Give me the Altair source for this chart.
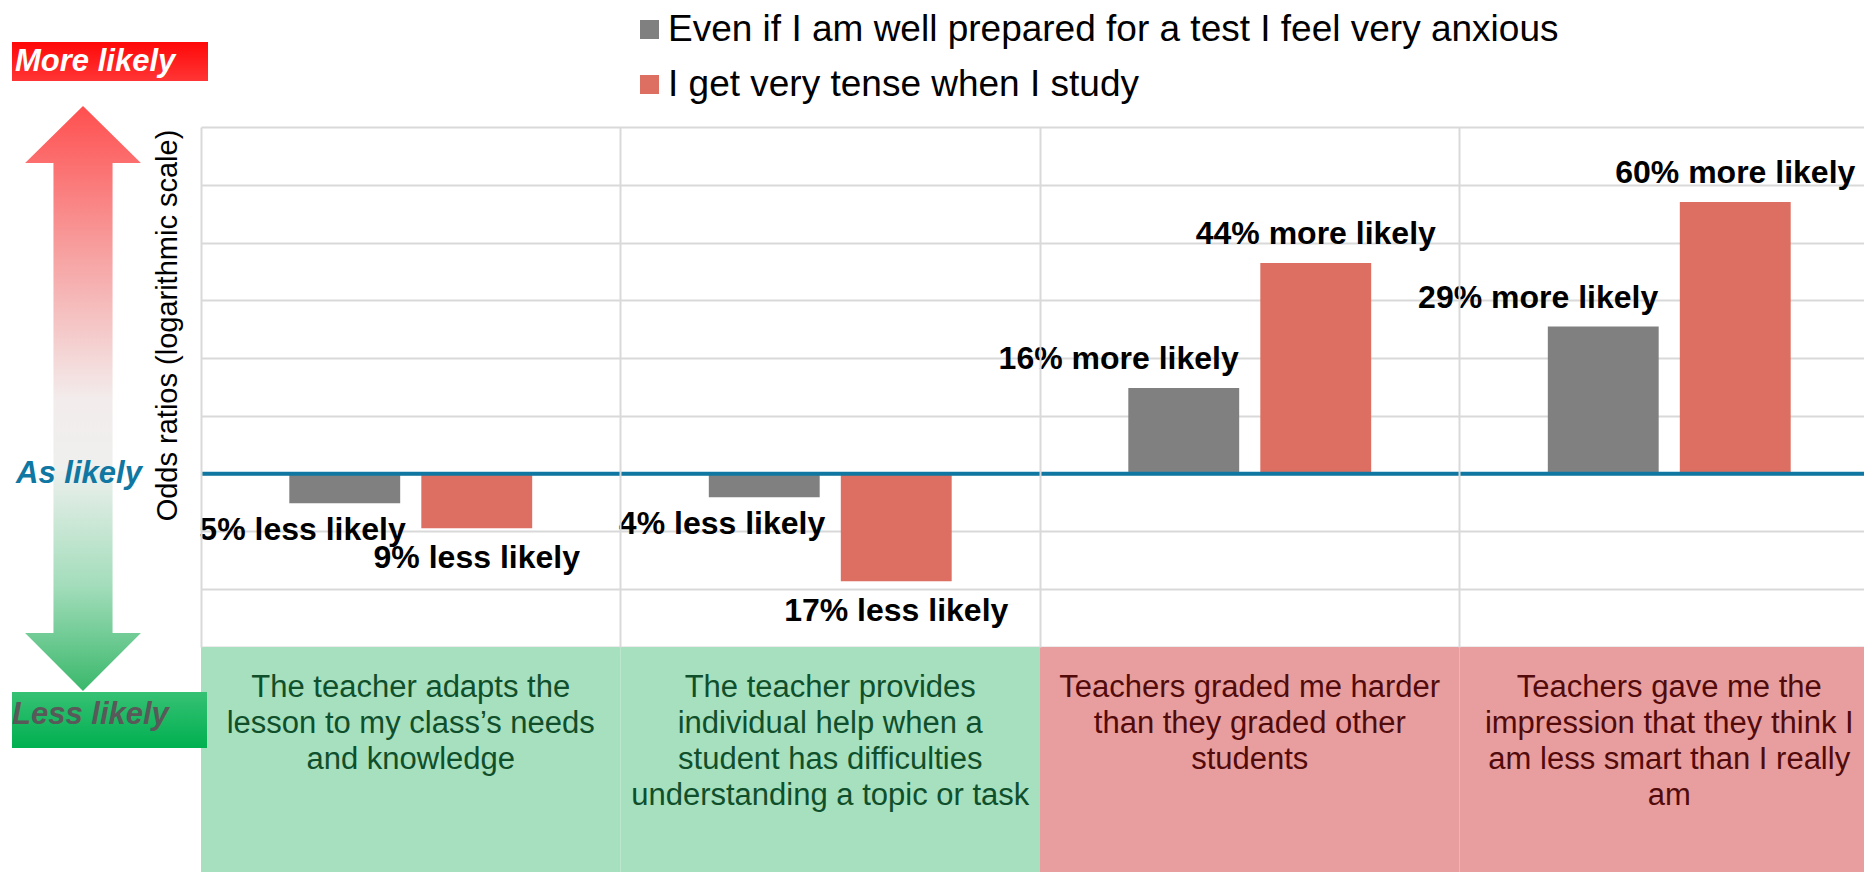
import math
import altair as alt
import pandas as pd

# ---------------- data ----------------
category_keys = ["adapts", "individual_help", "graded_harder", "less_smart"]
category_lines = [
    ["The teacher adapts the", "lesson to my class’s needs", "and knowledge"],
    ["The teacher provides", "individual help when a", "student has difficulties", "understanding a topic or task"],
    ["Teachers graded me harder", "than they graded other", "students"],
    ["Teachers gave me the", "impression that they think I", "am less smart than I really", "am"],
]
category_group = ["support", "support", "unfair", "unfair"]

series = [
    "Even if I am well prepared for a test I feel very anxious",
    "I get very tense when I study",
]
anxious_or = [0.95, 0.96, 1.16, 1.29]
tense_or = [0.91, 0.83, 1.44, 1.60]

series_colors = ["#808080", "#dd6e62"]

FONT = "Liberation Sans"

def label_for(v):
    pct = abs(round((v - 1) * 100))
    return f"{pct}% {'more' if v > 1 else 'less'} likely"

rows = []
for sid, vals in enumerate([anxious_or, tense_or]):
    for k, v in zip(category_keys, vals):
        rows.append({"cat": k, "series": series[sid], "sid": sid, "value": v,
                     "label": label_for(v), "pos": 1 if v > 1 else 0})
df = pd.DataFrame(rows)

catdf = pd.DataFrame({"cat": category_keys, "lines": category_lines, "group": category_group})
ann = pd.DataFrame({"k": [0]})

grid_vals = [math.exp(k / 10) for k in range(-3, 7)]

# ---------------- encodings ----------------
x_enc = alt.X(
    "cat:N", sort=category_keys,
    scale=alt.Scale(range=[0, 1678], paddingInner=0, paddingOuter=0),
    axis=alt.Axis(labels=False, ticks=False, domain=False, title=None, grid=True,
                  bandPosition=0, gridColor="#d9d9d9", gridWidth=2),
)
xo_enc = alt.XOffset("series:N", sort=series,
                     scale=alt.Scale(paddingInner=0.16, paddingOuter=0.669))
y_enc = alt.Y(
    "value:Q",
    scale=alt.Scale(type="log", domain=[math.exp(-0.3), math.exp(0.6)], nice=False, zero=False),
    axis=alt.Axis(values=grid_vals, labels=False, ticks=False, domain=False, grid=True,
                  gridColor="#d9d9d9", gridWidth=2,
                  title="Odds ratios (logarithmic scale)", titleX=-34, titleY=198,
                  titleAngle=270, titleFontSize=29, titleFontWeight="normal",
                  titleFont=FONT, titleColor="black", titleAlign="center",
                  titleBaseline="middle"),
)
color_enc = alt.Color(
    "series:N", sort=series,
    scale=alt.Scale(domain=series, range=series_colors),
    legend=alt.Legend(orient="none", legendX=430, legendY=-116, title=None,
                      symbolType="square", symbolSize=361, symbolStrokeWidth=0,
                      labelFontSize=37, labelFont=FONT, labelColor="black",
                      labelLimit=0, rowPadding=17, labelOffset=0, padding=0,
                      direction="vertical"),
)

# ---------------- layers ----------------
boxes_green = alt.Chart(catdf).mark_rect(color="#a6e0bf").encode(
    x=x_enc, y=alt.value(520), y2=alt.value(745)
).transform_filter(alt.datum.group == "support")
boxes_red = alt.Chart(catdf).mark_rect(color="#e89e9e").encode(
    x=x_enc, y=alt.value(520), y2=alt.value(745)
).transform_filter(alt.datum.group == "unfair")

cat_text_green = alt.Chart(catdf).mark_text(
    baseline="top", align="center", lineHeight=36, fontSize=31, font=FONT, color="#104f2b"
).encode(x=x_enc, y=alt.value(546), text="lines").transform_filter(alt.datum.group == "support")
cat_text_red = alt.Chart(catdf).mark_text(
    baseline="top", align="center", lineHeight=36, fontSize=31, font=FONT, color="#520a0a"
).encode(x=x_enc, y=alt.value(546), text="lines").transform_filter(alt.datum.group == "unfair")

bars = alt.Chart(df).mark_bar().encode(
    x=x_enc, xOffset=xo_enc, y=y_enc, y2=alt.Y2Datum(1), color=color_enc
)

baseline = alt.Chart(ann).mark_rule(color="#0f77a1", strokeWidth=4).encode(y=alt.YDatum(1))

def lbl(sid, pos, align, dx, dy):
    return alt.Chart(df).mark_text(
        align=align, baseline="middle", dx=dx, dy=dy, fontSize=32, fontWeight="bold",
        font=FONT, color="black"
    ).encode(x=x_enc, xOffset=xo_enc, y=y_enc, text="label").transform_filter(
        (alt.datum.sid == sid) & (alt.datum.pos == pos)
    )

labels = [
    lbl(0, 1, "right", 55, -29),
    lbl(0, 0, "right", 61, 27),
    lbl(1, 1, "center", 0, -29),
    lbl(1, 0, "center", 0, 30),
]

# left-side annotation: gradient arrow and likelihood labels
arrow_path = ("M0,-1 L0.198,-0.805 L0.101,-0.805 L0.101,0.802 L0.198,0.802 L0,1 "
              "L-0.198,0.802 L-0.101,0.802 L-0.101,-0.805 L-0.198,-0.805 Z")
arrow_grad = alt.Gradient(
    gradient="linear", x1=0, x2=0, y1=0, y2=1,
    stops=[alt.GradientStop(color="#ff4f4f", offset=0),
           alt.GradientStop(color="#f7a0a0", offset=0.25),
           alt.GradientStop(color="#f3ecec", offset=0.5),
           alt.GradientStop(color="#eef0ee", offset=0.62),
           alt.GradientStop(color="#a3ddbb", offset=0.82),
           alt.GradientStop(color="#3ab86b", offset=1)],
)
arrow = alt.Chart(ann).mark_point(
    shape=arrow_path, size=585 * 585, filled=True, fill=arrow_grad, opacity=1, strokeWidth=0
).encode(x=alt.value(-118), y=alt.value(271.5))

more_grad = alt.Gradient(gradient="linear", x1=0, x2=0, y1=0, y2=1,
                         stops=[alt.GradientStop(color="#ff0808", offset=0),
                                alt.GradientStop(color="#ff3535", offset=1)])
less_grad = alt.Gradient(gradient="linear", x1=0, x2=0, y1=0, y2=1,
                         stops=[alt.GradientStop(color="#36c174", offset=0),
                                alt.GradientStop(color="#00b050", offset=1)])
more_box = alt.Chart(ann).mark_rect(fill=more_grad).encode(
    x=alt.value(-189), x2=alt.value(7), y=alt.value(-85), y2=alt.value(-46))
less_box = alt.Chart(ann).mark_rect(fill=less_grad).encode(
    x=alt.value(-189), x2=alt.value(6), y=alt.value(565), y2=alt.value(621))

more_txt = alt.Chart(ann).mark_text(
    text="More likely", align="left", baseline="middle", fontSize=31, fontWeight="bold",
    fontStyle="italic", font=FONT, color="white"
).encode(x=alt.value(-186), y=alt.value(-65))
less_txt = alt.Chart(ann).mark_text(
    text="Less likely", align="left", baseline="middle", fontSize=31, fontWeight="bold",
    fontStyle="italic", font=FONT, color="#595959"
).encode(x=alt.value(-189), y=alt.value(588))
as_txt = alt.Chart(ann).mark_text(
    text="As likely", align="center", baseline="middle", fontSize=31, fontWeight="bold",
    fontStyle="italic", font=FONT, color="#0f77a1"
).encode(x=alt.value(-122), y=alt.YDatum(1))

chart = alt.layer(
    boxes_green, boxes_red, cat_text_green, cat_text_red,
    bars, baseline, *labels,
    arrow, more_box, less_box, more_txt, less_txt, as_txt,
).properties(
    width=1663, height=520,
    padding={"left": 193, "top": 119, "right": 0, "bottom": 225},
    autosize=alt.AutoSizeParams(type="none"),
).configure_view(stroke=None)

chart.save("out.html", embed_options={"renderer": "svg", "actions": False})
